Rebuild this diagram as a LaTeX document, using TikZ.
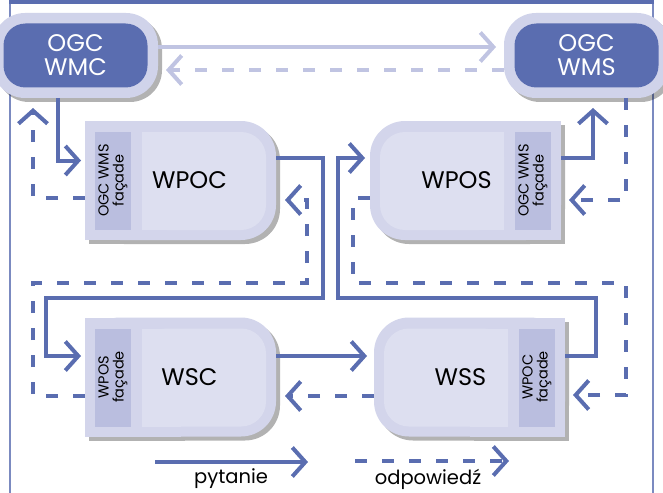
\documentclass[tikz,border=0pt]{standalone}
\usepackage{fontspec}
\setmainfont{Poppins}
\usetikzlibrary{arrows.meta,shadows}
\definecolor{dblue}{RGB}{90,109,176}
\definecolor{lblue}{RGB}{192,196,226}
\definecolor{ringc}{RGB}{208,211,234}
\definecolor{boxc}{RGB}{211,213,235}
\definecolor{innerc}{RGB}{221,223,240}
\definecolor{facc}{RGB}{186,190,223}
\begin{document}
\begin{tikzpicture}[x=1pt, y=-1pt,
  svc/.style={minimum width=191pt, minimum height=119pt, inner sep=0pt, outer sep=0pt},
  ogc/.style={fill=ringc, minimum width=165pt, minimum height=85pt, rounded corners=32pt,
    inner sep=0pt, outer sep=0pt, text=white, align=center, font=\fontsize{24}{24}\selectfont,
    drop shadow={shadow xshift=4pt, shadow yshift=-4pt, fill=black, opacity=.3},
    path picture={\fill[dblue, rounded corners=22pt]
      ([xshift=10.5pt, yshift=-10.5pt]path picture bounding box.north west) rectangle
      ([xshift=-10.5pt, yshift=10.5pt]path picture bounding box.south east);}},
  svclabel/.style={font=\fontsize{24}{24}\selectfont},
  facade/.style={font=\fontsize{14.5}{15}\selectfont, align=center, rotate=90, inner sep=0pt},
  legend/.style={font=\fontsize{19.5}{20}\selectfont},
  req/.style={draw=dblue, line width=4pt, -{Straight Barb[length=13pt, width=29pt]}},
  resp/.style={req, dash pattern=on 12pt off 15pt},
  lreq/.style={req, draw=lblue},
  lresp/.style={resp, draw=lblue}]
\useasboundingbox (0,0) rectangle (663,492);
\clip (0,0) rectangle (663,492);

% frame
\draw[dblue!80, line width=2pt] (10,-5) rectangle (653,520);
\fill[dblue] (9,0) rectangle (654,4.5);

% services
\node[ogc] (wmc) at (75.5,55.5) {OGC\\WMC};
\node[ogc] (wms) at (586.5,55.5) {OGC\\WMS};
\node[svc] (wpoc) at (180.5,180.5) {};
\node[svc] (wpos) at (465.5,180.5) {};
\node[svc] (wsc) at (180.5,377) {};
\node[svc] (wss) at (469.5,377) {};

\foreach \b/\s/\o/\d/\t/\f in {wpoc/west/east/1/WPOC/{OGC WMS\\façade},
    wpos/east/west/-1/WPOS/{OGC WMS\\façade},
    wsc/west/east/1/WSC/{WPOS\\façade},
    wss/east/west/-1/WSS/{WPOC\\façade}} {
  \fill[black!30, rounded corners=35pt] ([shift={(4,4)}]\b.north west) rectangle ([shift={(4,4)}]\b.south east);
  \fill[black!30] ([shift={(4,4)}]\b.north \s) rectangle ([shift={(4,4)}]\b.south);
  \fill[boxc, rounded corners=35pt] (\b.north west) rectangle (\b.south east);
  \fill[boxc] (\b.north \s) rectangle (\b.south);
  \fill[innerc, rounded corners=25pt] ([shift={({57*\d},11)}]\b.north \s) rectangle ([shift={({-10*\d},-10)}]\b.south \o);
  \fill[innerc] ([shift={({57*\d},11)}]\b.north \s) rectangle ([shift={(0,-10)}]\b.south);
  \fill[facc] ([shift={({10*\d},11)}]\b.north \s) rectangle ([shift={({46*\d},-10)}]\b.south \s);
  \node[facade] (\b-f) at ([shift={({28*\d},0)}]\b.\s) {\f};
  \node[svclabel] (\b-t) at ([shift={({9*\d},0)}]\b.center) {\t};
}

% requests and responses
\draw[lreq] ([shift={(0,-8.5)}]wmc.east) -- ([shift={(-8,-8.5)}]wms.west);
\draw[lresp] ([shift={(0,14.5)}]wms.west) -- ([shift={(8,14.5)}]wmc.east);

\draw[req] ([shift={(-18,0)}]wmc.south) |- ([shift={(-4,-20)}]wpoc.west);
\draw[resp] ([shift={(0,17.5)}]wpoc.west) -| ([shift={(-42.5,10)}]wmc.south);

\draw[req] ([shift={(0,-22.5)}]wpos.east) -| ([shift={(6.5,10)}]wms.south);
\draw[resp] ([shift={(39.5,0)}]wms.south) |- ([shift={(8,19.5)}]wpos.east);

\draw[req] ([shift={(0,-22.5)}]wpoc.east) -- ++(47,0) |- (46,298) |- ([shift={(-4,-21)}]wsc.west);
\draw[resp] ([shift={(0,19)}]wsc.west) -| (33,283) -| (307,200) -- ([shift={(9,19.5)}]wpoc.east);

\draw[req] ([shift={(0,-21)}]wss.east) -- ++(31,0) |- (338,298) |- ([shift={(-5,-22.5)}]wpos.west);
\draw[resp] ([shift={(0,17.5)}]wpos.west) -| (353,283) -| (626,395) -- ([shift={(8,18)}]wss.east);

\draw[req] ([shift={(0,-21)}]wsc.east) -- ([shift={(-7,-21)}]wss.west);
\draw[resp] ([shift={(0,19)}]wss.west) -- ([shift={(9,19)}]wsc.east);

% legend
\node[legend] (pyt) at (231,479) {pytanie};
\node[legend] (odp) at (428,479) {odpowiedź};
\draw[req] ([shift={(-76,-17)}]pyt.center) -- ++(153,0);
\draw[resp] ([shift={(-73,-18)}]odp.center) -- ++(154,0);
\end{tikzpicture}
\end{document}
